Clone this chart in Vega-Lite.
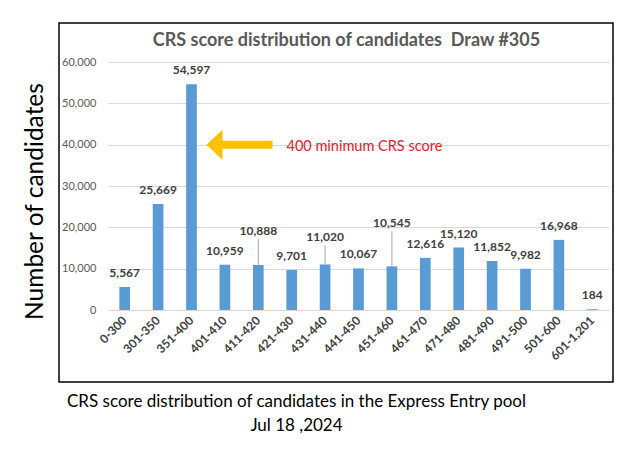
{
  "$schema": "https://vega.github.io/schema/vega-lite/v6.json",
  "width": 501,
  "height": 248,
  "autosize": {"type": "none"},
  "padding": {"left": 108, "top": 62, "right": 21, "bottom": 140},
  "background": "white",
  "config": {"view": {"stroke": null}, "font": "Lato"},
  "title": {
    "text": "CRS score distribution of candidates\u00a0 Draw #305",
    "fontSize": 18,
    "fontWeight": "bold",
    "color": "#595959",
    "font": "Lato",
    "anchor": "middle",
    "dx": -12,
    "offset": -28
  },
  "datasets": {
    "crs": [
      {"cat": "0-300", "count": 5567},
      {"cat": "301-350", "count": 25669},
      {"cat": "351-400", "count": 54597},
      {"cat": "401-410", "count": 10959},
      {"cat": "411-420", "count": 10888},
      {"cat": "421-430", "count": 9701},
      {"cat": "431-440", "count": 11020},
      {"cat": "441-450", "count": 10067},
      {"cat": "451-460", "count": 10545},
      {"cat": "461-470", "count": 12616},
      {"cat": "471-480", "count": 15120},
      {"cat": "481-490", "count": 11852},
      {"cat": "491-500", "count": 9982},
      {"cat": "501-600", "count": 16968},
      {"cat": "601-1,201", "count": 184}
    ],
    "frame": [{"x0": 0, "x1": 1, "y0": 0, "y1": 1}],
    "note": [{"cat": "351-400", "count": 40000, "text": "400 minimum CRS score"}]
  },
  "layer": [
    {
      "data": {"name": "frame"},
      "mark": {"type": "rect", "fill": "transparent", "stroke": "#000000", "strokeWidth": 1.5},
      "encoding": {
        "x": {"field": "x0", "type": "quantitative", "scale": {"domain": [0, 1], "range": [-49, 505], "nice": false, "zero": false}, "axis": null},
        "x2": {"field": "x1"},
        "y": {"field": "y0", "type": "quantitative", "scale": {"domain": [0, 1], "range": [320, -39], "nice": false, "zero": false}, "axis": null},
        "y2": {"field": "y1"}
      }
    },
    {
      "data": {"name": "crs"},
      "encoding": {
        "x": {
          "field": "cat",
          "type": "nominal",
          "sort": null,
          "scale": {"paddingInner": 0.68, "paddingOuter": 0.34},
          "axis": {
            "title": ["CRS score distribution of candidates in the Express Entry pool", "Jul 18 ,2024"],
            "titleFont": "Lato",
            "titleFontSize": 17,
            "titleFontWeight": "normal",
            "titleColor": "#000000",
            "titleX": 188,
            "titleY": 83,
            "titleAlign": "center",
            "titleBaseline": "top",
            "titleLineHeight": 24,
            "labelAngle": -45,
            "labelAlign": "right",
            "labelBaseline": "middle",
            "labelFontSize": 12,
            "labelFontWeight": "bold",
            "labelColor": "#404040",
            "labelPadding": 8,
            "ticks": false,
            "domain": true,
            "domainColor": "#D9D9D9",
            "grid": false
          }
        },
        "y": {
          "field": "count",
          "type": "quantitative",
          "scale": {"domain": [0, 60000]},
          "axis": {
            "title": "Number of candidates",
            "titleFont": "Lato",
            "titleFontSize": 24.5,
            "titleFontWeight": "normal",
            "titleColor": "#000000",
            "titleAngle": -90,
            "titleX": -73,
            "titleY": 139,
            "titleAlign": "center",
            "titleBaseline": "middle",
            "values": [0, 10000, 20000, 30000, 40000, 50000, 60000],
            "format": ",.0f",
            "labelFontSize": 11,
            "labelColor": "#595959",
            "labelPadding": 12,
            "ticks": false,
            "domain": false,
            "grid": true,
            "gridColor": "#D9D9D9"
          }
        }
      },
      "layer": [
        {"mark": {"type": "bar", "color": "#5B9BD5"}},
        {
          "transform": [{"filter": "indexof(['411-420','431-440','451-460'], datum.cat) < 0"}],
          "mark": {"type": "text", "dy": -14, "baseline": "middle", "fontSize": 12, "fontWeight": "bold", "color": "#404040"},
          "encoding": {"text": {"field": "count", "type": "quantitative", "format": ",.0f"}}
        },
        {
          "transform": [{"filter": "datum.cat == '411-420'"}],
          "layer": [
            {"mark": {"type": "rule", "color": "#A6A6A6", "strokeWidth": 1, "y2Offset": -26}, "encoding": {"y2": {"field": "count"}}},
            {"mark": {"type": "text", "dy": -34, "baseline": "middle", "fontSize": 12, "fontWeight": "bold", "color": "#404040"}, "encoding": {"text": {"field": "count", "type": "quantitative", "format": ",.0f"}}}
          ]
        },
        {
          "transform": [{"filter": "datum.cat == '431-440'"}],
          "layer": [
            {"mark": {"type": "rule", "color": "#A6A6A6", "strokeWidth": 1, "y2Offset": -19}, "encoding": {"y2": {"field": "count"}}},
            {"mark": {"type": "text", "dy": -27, "baseline": "middle", "fontSize": 12, "fontWeight": "bold", "color": "#404040"}, "encoding": {"text": {"field": "count", "type": "quantitative", "format": ",.0f"}}}
          ]
        },
        {
          "transform": [{"filter": "datum.cat == '451-460'"}],
          "layer": [
            {"mark": {"type": "rule", "color": "#A6A6A6", "strokeWidth": 1, "y2Offset": -35}, "encoding": {"y2": {"field": "count"}}},
            {"mark": {"type": "text", "dy": -43, "baseline": "middle", "fontSize": 12, "fontWeight": "bold", "color": "#404040"}, "encoding": {"text": {"field": "count", "type": "quantitative", "format": ",.0f"}}}
          ]
        },
        {
          "data": {"name": "note"},
          "mark": {
            "type": "point",
            "shape": "M-1,0L-0.515,-0.455L-0.515,-0.121L1,-0.121L1,0.121L-0.515,0.121L-0.515,0.455Z",
            "size": 4356,
            "filled": true,
            "fill": "#FFC000",
            "opacity": 1,
            "strokeWidth": 0,
            "xOffset": 48
          }
        },
        {
          "data": {"name": "note"},
          "mark": {"type": "text", "align": "left", "baseline": "middle", "xOffset": 95, "dy": 2, "fontSize": 14.5, "color": "#E3202F"},
          "encoding": {"text": {"field": "text", "type": "nominal"}}
        }
      ]
    }
  ],
  "resolve": {"scale": {"x": "independent", "y": "independent"}}
}
